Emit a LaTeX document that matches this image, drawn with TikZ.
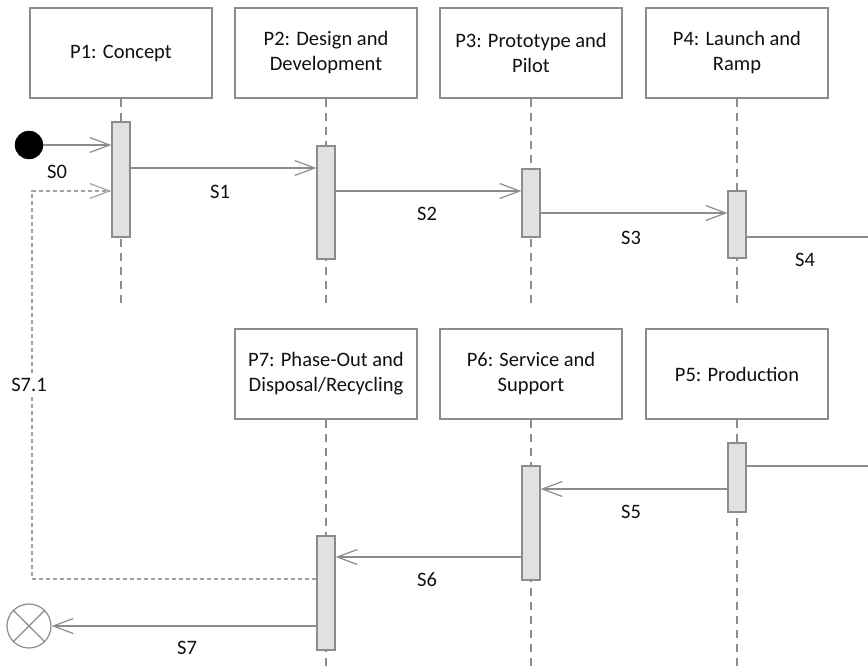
\documentclass[tikz,border=0pt]{standalone}
\usepackage{fontspec}
\setmainfont{Carlito}
\usetikzlibrary{arrows.meta,calc}
\definecolor{ln}{HTML}{8C8C8C}
\definecolor{barfill}{HTML}{E1E1E1}
\definecolor{txt}{HTML}{111111}
\begin{document}
\begin{tikzpicture}[x=1pt,y=-1pt,
  every node/.style={font=\fontsize{20.5}{25}\selectfont, text=txt},
  procbox/.style={draw=ln, line width=1.2pt, minimum width=182pt, minimum height=90pt, align=center, inner sep=0pt},
  actbar/.style={draw=ln, fill=barfill, line width=1.2pt, minimum width=18pt, inner sep=0pt},
  lifeline/.style={draw=ln, line width=1.2pt, dash pattern=on 8pt off 6pt},
  tipstyle/.style={-{Straight Barb[length=20pt,width=15pt,line width=1.2pt]}},
  msg/.style={draw=ln, line width=1.2pt, tipstyle},
  plainmsg/.style={draw=ln, line width=1.2pt},
  retmsg/.style={draw=ln!80, line width=1.2pt, dash pattern=on 4pt off 3pt, tipstyle},
  lab/.style={inner sep=0pt}
]
\path[use as bounding box] (0,0) rectangle (868,670);
\fill[white] (0,0) rectangle (868,670);

% process boxes
\node[procbox] (p1) at (121,53) {P1: Concept};
\node[procbox] (p2) at (326,53) {P2: Design and\\Development};
\node[procbox] (p3) at (531,53) {P3: Prototype and\\Pilot};
\node[procbox] (p4) at (737,53) {P4: Launch and\\Ramp};
\node[procbox] (p7) at (326,374) {P7: Phase-Out and\\Disposal/Recycling};
\node[procbox] (p6) at (531,374) {P6: Service and\\Support};
\node[procbox] (p5) at (737,374) {P5: Production};

% lifeline ends
\coordinate (l1) at (121,303);
\coordinate (l2) at (326,303);
\coordinate (l3) at (531,303);
\coordinate (l4) at (737,303);
\coordinate (l7) at (326,670);
\coordinate (l6) at (531,670);
\coordinate (l5) at (737,670);
\foreach \p/\l in {p1/l1,p2/l2,p3/l3,p4/l4,p5/l5,p6/l6,p7/l7}
  \draw[lifeline] (\p.south) -- (\l);

% activation bars
\node[actbar, minimum height=115pt] (a1) at (121,179.5) {};
\node[actbar, minimum height=113pt] (a2) at (326,202.5) {};
\node[actbar, minimum height=68pt] (a3) at (531,203) {};
\node[actbar, minimum height=67pt] (a4) at (737,224.5) {};
\node[actbar, minimum height=69pt] (a5) at (737,477.5) {};
\node[actbar, minimum height=114pt] (a6) at (531,523) {};
\node[actbar, minimum height=114pt] (a7) at (326,593) {};

% start and end
\node[circle, fill=black, draw=black, minimum size=28pt, inner sep=0pt] (init) at (29,145) {};
\node[circle, draw=ln, line width=1.2pt, minimum size=44pt, inner sep=0pt] (fin) at (29,626) {};
\draw[plainmsg] (fin.north west) -- (fin.south east);
\draw[plainmsg] (fin.north east) -- (fin.south west);

% messages
\draw[msg] (init) -- (a1.west |- init);
\draw[msg] (a1.east |- 0,168) -- (a2.west |- 0,168);
\draw[msg] (a2.east |- 0,191) -- (a3.west |- 0,191);
\draw[msg] (a3.east |- 0,213) -- (a4.west |- 0,213);
\coordinate (e4) at (868,237);
\draw[plainmsg] (a4.east |- e4) -- (e4);
\coordinate (e5) at (868,466);
\draw[plainmsg] (e5) -- (a5.east |- e5);
\draw[msg] (a5.west |- 0,489) -- (a6.east |- 0,489);
\draw[msg] (a6.west |- 0,557) -- (a7.east |- 0,557);
\draw[msg] (a7.west |- 0,626) -- (fin);
\coordinate (c71) at (32,191);
\draw[retmsg] (a7.west |- 0,579) -| (c71) -- (a1.west |- c71);

% labels
\node[lab] (s0) at (57,172) {S0};
\node[lab] (s1) at (220,192) {S1};
\node[lab] (s2) at (427,214) {S2};
\node[lab] (s3) at (631,238) {S3};
\node[lab] (s4) at (805,260) {S4};
\node[lab] (s5) at (631,512) {S5};
\node[lab] (s6) at (427,580) {S6};
\node[lab] (s7) at (187,648) {S7};
\node[lab, fill=white, inner sep=3pt] (s71) at (29,385) {S7.1};
\end{tikzpicture}
\end{document}
